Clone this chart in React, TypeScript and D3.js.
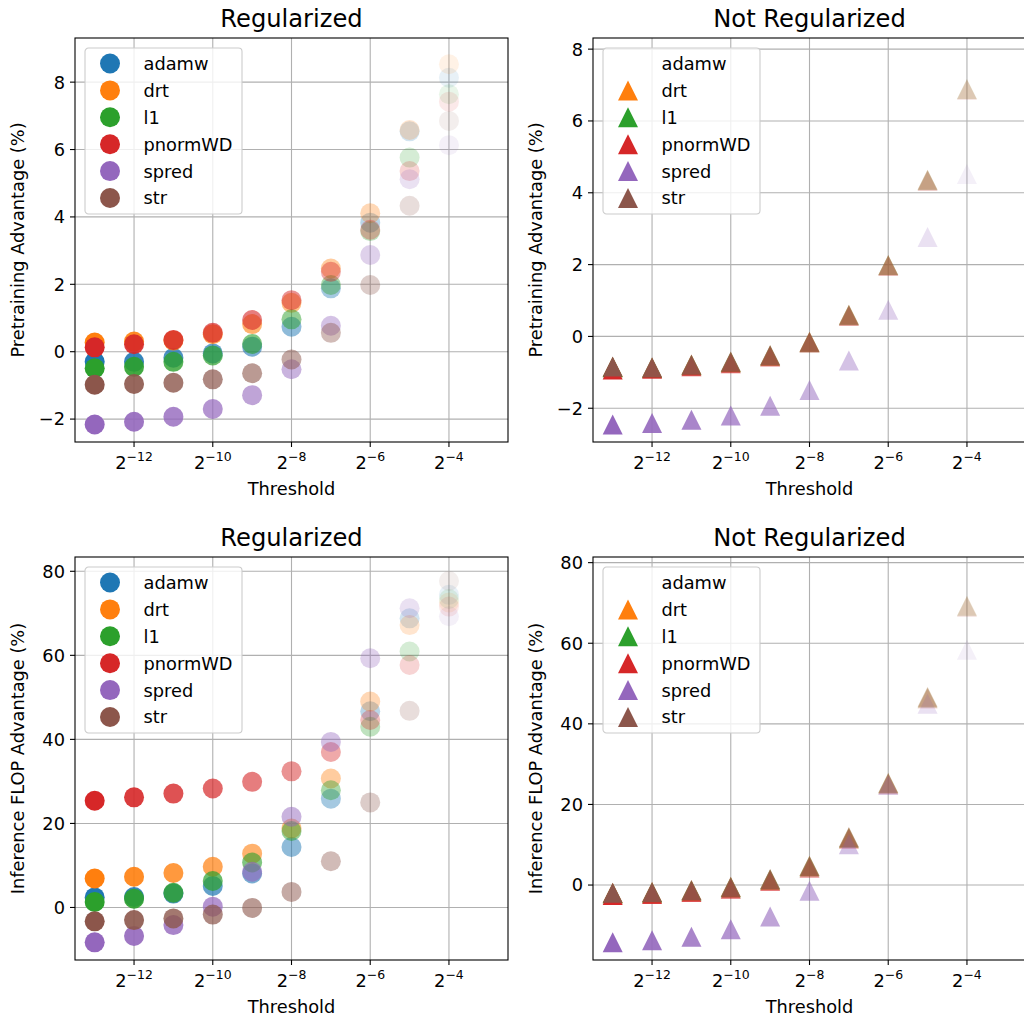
import * as d3 from 'd3';

// thresholds are powers of two: 2^-13 ... 2^-4
const exponents = [-13, -12, -11, -10, -9, -8, -7, -6, -5, -4];
const methods = ['adamw', 'drt', 'l1', 'pnormWD', 'spred', 'str'];
const colors = ['#1f77b4', '#ff7f0e', '#2ca02c', '#d62728', '#9467bd', '#8c564b'];
const xTickExps = [-12, -10, -8, -6, -4];

// Regularized, pretraining advantage
const regPretrainAdamw = [-0.30, -0.30, -0.18, -0.05, 0.15, 0.74, 1.88, 3.83, 6.54, 8.13];
const regPretrainDrt = [0.27, 0.30, 0.33, 0.52, 0.82, 1.45, 2.47, 4.11, 6.58, 8.53];
const regPretrainL1 = [-0.49, -0.45, -0.30, -0.11, 0.23, 0.96, 1.98, 3.58, 5.76, 7.64];
const regPretrainPnorm = [0.13, 0.22, 0.35, 0.56, 0.94, 1.53, 2.37, 3.62, 5.36, 7.42];
const regPretrainSpred = [-2.16, -2.08, -1.93, -1.70, -1.29, -0.52, 0.77, 2.87, 5.12, 6.13];
const regPretrainStr = [-0.98, -0.96, -0.92, -0.82, -0.64, -0.23, 0.56, 1.98, 4.33, 6.85];

// Not regularized, pretraining advantage (no adamw run)
const noRegPretrainDrt = [-0.85, -0.87, -0.79, -0.71, -0.53, -0.15, 0.60, 1.99, 4.36, 6.89];
const noRegPretrainL1 = [-0.86, -0.88, -0.80, -0.72, -0.54, -0.16, 0.59, 1.98, 4.35, 6.88];
const noRegPretrainPnorm = [-0.92, -0.90, -0.83, -0.75, -0.56, -0.17, 0.57, 1.96, 4.33, 6.86];
const noRegPretrainSpred = [-2.45, -2.41, -2.32, -2.20, -1.93, -1.49, -0.67, 0.74, 2.77, 4.52];
const noRegPretrainStr = [-0.84, -0.86, -0.78, -0.70, -0.52, -0.15, 0.60, 1.99, 4.36, 6.89];

// Regularized, inference FLOP advantage
const regFlopAdamw = [2.4, 2.5, 3.3, 5.1, 8.1, 14.4, 25.9, 46.7, 68.8, 74.4];
const regFlopDrt = [6.9, 7.3, 8.2, 9.7, 12.8, 18.8, 30.7, 49.0, 67.2, 72.6];
const regFlopL1 = [1.3, 2.1, 3.5, 6.3, 10.7, 18.2, 27.9, 43.0, 60.9, 73.4];
const regFlopPnorm = [25.4, 26.2, 27.1, 28.3, 29.9, 32.4, 37.0, 44.6, 57.7, 71.6];
const regFlopSpred = [-8.3, -6.8, -4.2, 0.2, 8.5, 21.6, 39.4, 59.3, 71.2, 69.3];
const regFlopStr = [-3.3, -3.0, -2.6, -1.7, -0.1, 3.7, 11.0, 25.0, 46.8, 77.7];

// Not regularized, inference FLOP advantage
const noRegFlopDrt = [-2.0, -1.8, -1.3, -0.5, 1.4, 4.7, 11.8, 25.3, 46.6, 69.3];
const noRegFlopL1 = [-2.1, -1.9, -1.4, -0.6, 1.3, 4.6, 11.7, 25.2, 46.5, 69.2];
const noRegFlopPnorm = [-2.5, -2.2, -1.7, -0.9, 1.0, 4.3, 11.5, 25.0, 46.3, 69.0];
const noRegFlopSpred = [-14.2, -13.7, -12.8, -11.0, -7.8, -1.4, 10.1, 24.8, 45.0, 58.4];
const noRegFlopStr = [-1.9, -1.7, -1.2, -0.4, 1.5, 4.8, 11.9, 25.4, 46.7, 69.3];

const FONT = '"DejaVu Sans", sans-serif';
const FS = 17.8;

type Panel = {
  left: number; top: number; width: number; height: number;
  title: string; ylabel: string; yDomain: [number, number]; yTicks: number[];
  marker: 'circle' | 'triangle';
  series: (number[] | null)[];
};

const panels: Panel[] = [
  {
    left: 75, top: 38, width: 433, height: 404,
    title: 'Regularized', ylabel: 'Pretraining Advantage (%)',
    yDomain: [-2.68, 9.31], yTicks: [-2, 0, 2, 4, 6, 8], marker: 'circle',
    series: [regPretrainAdamw, regPretrainDrt, regPretrainL1, regPretrainPnorm, regPretrainSpred, regPretrainStr],
  },
  {
    left: 593, top: 38, width: 433, height: 404,
    title: 'Not Regularized', ylabel: 'Pretraining Advantage (%)',
    yDomain: [-2.94, 8.31], yTicks: [-2, 0, 2, 4, 6, 8], marker: 'triangle',
    series: [null, noRegPretrainDrt, noRegPretrainL1, noRegPretrainPnorm, noRegPretrainSpred, noRegPretrainStr],
  },
  {
    left: 75, top: 557, width: 433, height: 403,
    title: 'Regularized', ylabel: 'Inference FLOP Advantage (%)',
    yDomain: [-12.5, 83.4], yTicks: [0, 20, 40, 60, 80], marker: 'circle',
    series: [regFlopAdamw, regFlopDrt, regFlopL1, regFlopPnorm, regFlopSpred, regFlopStr],
  },
  {
    left: 593, top: 557, width: 433, height: 403,
    title: 'Not Regularized', ylabel: 'Inference FLOP Advantage (%)',
    yDomain: [-18.6, 81.4], yTicks: [0, 20, 40, 60, 80], marker: 'triangle',
    series: [null, noRegFlopDrt, noRegFlopL1, noRegFlopPnorm, noRegFlopSpred, noRegFlopStr],
  },
];

const fmtNum = (v: number) => (v < 0 ? '\u2212' + Math.abs(v) : String(v));

function Marker({ kind, x, y, color, alpha }: { kind: string; x: number; y: number; color: string; alpha: number }) {
  if (kind === 'circle') {
    return <circle cx={x} cy={y} r={10} fill={color} fillOpacity={alpha} />;
  }
  const h = 10;
  return <path d={`M${x},${y - h}L${x - h},${y + h}L${x + h},${y + h}Z`} fill={color} fillOpacity={alpha} />;
}

function PanelView({ p }: { p: Panel }) {
  const x = d3.scaleLog().base(2)
    .domain([Math.pow(2, -13.5), Math.pow(2, -2.5)])
    .range([p.left, p.left + p.width]);
  const y = d3.scaleLinear().domain(p.yDomain).range([p.top + p.height, p.top]);
  const bottom = p.top + p.height;
  const right = p.left + p.width;

  return (
    <g>
      <defs>
        <clipPath id={`clip-${p.left}-${p.top}`}>
          <rect x={p.left} y={p.top} width={p.width} height={p.height} />
        </clipPath>
      </defs>
      {/* grid */}
      {xTickExps.map(e => (
        <line key={'gx' + e} x1={x(Math.pow(2, e))} x2={x(Math.pow(2, e))} y1={p.top} y2={bottom}
          stroke="#b0b0b0" strokeWidth={1.1} />
      ))}
      {p.yTicks.map(t => (
        <line key={'gy' + t} x1={p.left} x2={right} y1={y(t)} y2={y(t)} stroke="#b0b0b0" strokeWidth={1.1} />
      ))}
      {/* points */}
      <g clipPath={`url(#clip-${p.left}-${p.top})`}>
        {p.series.map((vals, si) =>
          vals ? vals.map((v, i) => (
            <Marker key={si + '-' + i} kind={p.marker} x={x(Math.pow(2, exponents[i]))} y={y(v)}
              color={colors[si]} alpha={1 - i / 10} />
          )) : null
        )}
      </g>
      {/* spines */}
      <rect x={p.left} y={p.top} width={p.width} height={p.height} fill="none" stroke="#000" strokeWidth={1.1} />
      {/* x ticks */}
      {xTickExps.map(e => {
        const xx = x(Math.pow(2, e));
        return (
          <g key={'tx' + e}>
            <line x1={xx} x2={xx} y1={bottom} y2={bottom + 5} stroke="#000" strokeWidth={1.1} />
            <text x={xx} y={bottom + 27} textAnchor="middle" fontFamily={FONT} fontSize={FS}>
              <tspan>2</tspan>
              <tspan fontSize={FS * 0.7} dy={-8}>{'\u2212' + Math.abs(e)}</tspan>
            </text>
          </g>
        );
      })}
      {/* y ticks */}
      {p.yTicks.map(t => (
        <g key={'ty' + t}>
          <line x1={p.left - 5} x2={p.left} y1={y(t)} y2={y(t)} stroke="#000" strokeWidth={1.1} />
          <text x={p.left - 10} y={y(t)} dy="0.36em" textAnchor="end" fontFamily={FONT} fontSize={FS}>{fmtNum(t)}</text>
        </g>
      ))}
      <text x={(p.left + right) / 2} y={p.top - 11} textAnchor="middle" fontFamily={FONT} fontSize={24.2}>{p.title}</text>
      <text x={(p.left + right) / 2} y={bottom + 53} textAnchor="middle" fontFamily={FONT} fontSize={FS}>Threshold</text>
      <text transform={`translate(${p.left - 51},${p.top + p.height / 2}) rotate(-90)`} textAnchor="middle"
        fontFamily={FONT} fontSize={FS}>{p.ylabel}</text>
      {/* legend */}
      <g transform={`translate(${p.left + 10},${p.top + 10})`}>
        <rect x={0} y={0} width={157} height={166} rx={3.5} fill="#fff" fillOpacity={0.8} stroke="#cccccc" strokeWidth={1.1} />
        {methods.map((m, i) => {
          const ry = 15.5 + i * 26.9;
          return (
            <g key={m}>
              {p.series[i] ? <Marker kind={p.marker} x={25} y={ry} color={colors[i]} alpha={1} /> : null}
              <text x={58.5} y={ry} dy="0.36em" fontFamily={FONT} fontSize={FS}>{m}</text>
            </g>
          );
        })}
      </g>
    </g>
  );
}

export default function App() {
  return (
    <svg width={1024} height={1018} style={{ position: 'absolute', left: 0, top: 0, background: '#fff' }}>
      <rect x={0} y={0} width={1024} height={1018} fill="#fff" />
      {panels.map((p, i) => <PanelView key={i} p={p} />)}
    </svg>
  );
}
